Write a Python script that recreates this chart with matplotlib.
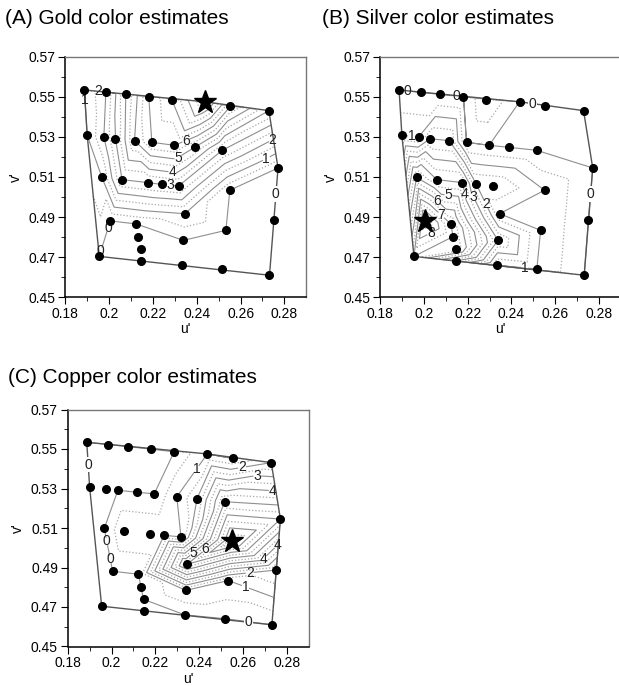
import numpy as np
import matplotlib
matplotlib.use("Agg")
import matplotlib.pyplot as plt
import matplotlib.tri as mtri

plt.rcParams['font.family'] = ['Liberation Sans', 'DejaVu Sans']

# chip chromaticities (u', v'), row by row from the top
u = [0.1887, 0.1985, 0.2076, 0.2181, 0.2286, 0.2437, 0.2553, 0.2729,
     0.1900, 0.1976, 0.2029, 0.2116, 0.2195, 0.2298, 0.2390, 0.2516, 0.2771,
     0.1967, 0.2059, 0.2176, 0.2240, 0.2317, 0.2551,
     0.2005, 0.2123, 0.2346, 0.2533, 0.2751, 0.2134, 0.2146, 0.2339,
     0.1955, 0.2146, 0.2334, 0.2516, 0.2732]
v = [0.5534, 0.5522, 0.5512, 0.5499, 0.5486, 0.5475, 0.5452, 0.5431,
     0.5308, 0.5299, 0.5291, 0.5281, 0.5273, 0.5258, 0.5248, 0.5233, 0.5145,
     0.5098, 0.5087, 0.5072, 0.5063, 0.5055, 0.5034,
     0.4881, 0.4866, 0.4917, 0.4834, 0.4887, 0.4803, 0.4739, 0.4784,
     0.4704, 0.4681, 0.4660, 0.4641, 0.4610]

# number of selections per chip
gold = [1, 2, 4, 6, 7, 9, 6, 4,
        1, 2, 3, 5, 6, 6, 5, 3, 0,
        1, 3, 3, 3, 3, 0,
        0, 0, 1, 0, 0, 0, 0, 0,
        0, 0, 0, 0, 0]
silver = [0, 0, 0, 0, 1, 0, 0, 0,
          1, 1, 2, 2, 0, 0, 0, 0, 0,
          5, 4, 4, 2, 2, 1,
          9, 7, 1, 1, 0, 7, 7, 3,
          7, 4, 1, 1, 0]
copper = [0, 0, 0, 0, 0, 1, 1, 2,
          0, 0, 0, 0, 0, 1, 2, 5, 6,
          0, 1, 1, 1, 1, 8,
          0, 0, 6, 1, 2, 0, 0, 1,
          0, 0, 0, 0, 0]

titles = ['(A) Gold color estimates', '(B) Silver color estimates',
          '(C) Copper color estimates']

# where the contour numbers sit (u', v')
gold_lbl = [(0.1909, 0.5487), (0.1950, 0.5535), (0.2345, 0.5296), (0.2317, 0.5193),
            (0.2289, 0.5130), (0.2278, 0.5062), (0.2747, 0.5285), (0.2717, 0.5193),
            (0.1996, 0.4847), (0.1958, 0.4731)]
silver_lbl = [(0.1923, 0.5525), (0.2148, 0.5497), (0.1945, 0.5295), (0.2025, 0.4835),
              (0.2068, 0.4898), (0.2056, 0.4978), (0.2110, 0.4990), (0.2183, 0.5015),
              (0.2226, 0.5002), (0.2288, 0.4965), (0.2460, 0.4648)]
copper_lbl = [(0.2398, 0.5393), (0.2595, 0.5410), (0.2665, 0.5361), (0.2736, 0.5289),
              (0.2751, 0.5018), (0.2695, 0.4943), (0.2630, 0.4882), (0.2603, 0.4778),
              (0.2372, 0.4974), (0.2436, 0.4983), (0.1975, 0.5031), (0.1993, 0.4941)]
# "0" tags on outline edges (pairs of chip indices)
gold_edge0 = [(16, 27)]
silver_edge0 = [(5, 6), (16, 27)]
copper_edge0 = [(0, 8), (34, 35)]

xt = [0.18, 0.20, 0.22, 0.24, 0.26, 0.28]
xtl = ['0.18', '0.2', '0.22', '0.24', '0.26', '0.28']
yt = [0.45, 0.47, 0.49, 0.51, 0.53, 0.55, 0.57]
ytl = ['0.45', '0.47', '0.49', '0.51', '0.53', '0.55', '0.57']

W, H = 619, 686
fig = plt.figure(figsize=(W / 100, H / 100), dpi=100)

tri = mtri.Triangulation(u, v)


def panel(rect, z, lbl, edge0, title, title_xy):
    ax = fig.add_axes(rect)
    z = np.asarray(z, float)
    levels = np.arange(0, z.max(), 0.5) + 1e-6
    cs = ax.tricontour(tri, z, levels=levels[::2], colors='#8e8e8e',
                       linewidths=0.8, linestyles='solid')
    ax.tricontour(tri, z, levels=levels[1::2], colors='#a8a8a8',
                  linewidths=0.9, linestyles=[(0, (1, 1.6))])
    texts = ax.clabel(cs, fmt=lambda x: f'{x:.0f}', manual=lbl, inline=True,
                      inline_spacing=1, fontsize=10, colors='#222222')
    for t in texts:
        t.set_rotation(0)

    # outline of the chip set
    nb = tri.neighbors
    for t, tr in enumerate(tri.triangles):
        for k in range(3):
            if nb[t, k] == -1:
                a, b = tr[k], tr[(k + 1) % 3]
                ax.plot([u[a], u[b]], [v[a], v[b]], color='#555555', lw=1.0,
                        zorder=3)
    for a, b in edge0:
        ax.text((u[a] + u[b]) / 2, (v[a] + v[b]) / 2, '0', fontsize=10,
                color='#222222', ha='center', va='center', zorder=4,
                bbox=dict(fc='white', ec='none', pad=0.5))

    best = int(np.argmax(z))
    idx = [i for i in range(len(u)) if i != best]
    ax.plot([u[i] for i in idx], [v[i] for i in idx], 'o', color='black',
            ms=5.5, zorder=5)
    ax.plot(u[best], v[best], '*', color='black', ms=17, zorder=6)

    ax.set_xlim(0.18, 0.29)
    ax.set_ylim(0.45, 0.57)
    ax.set_xticks(xt)
    ax.set_xticklabels(xtl)
    ax.set_yticks(yt)
    ax.set_yticklabels(ytl)
    ax.set_xticks(np.arange(0.18, 0.29, 0.01), minor=True)
    ax.set_yticks(np.arange(0.45, 0.571, 0.01), minor=True)
    ax.tick_params(which='major', length=5, width=0.8, labelsize=10, pad=2)
    ax.tick_params(which='minor', length=3, width=0.6)
    ax.set_xlabel("u'", fontsize=10, labelpad=1)
    ax.set_ylabel("v'", fontsize=10, labelpad=4)
    for s in ('top', 'right'):
        ax.spines[s].set_color('#777777')
        ax.spines[s].set_linewidth(1.0)
    for s in ('left', 'bottom'):
        ax.spines[s].set_linewidth(1.1)
    fig.text(title_xy[0] / W, 1 - title_xy[1] / H, title, fontsize=15,
             ha='left', va='center')
    return ax


aw, ah = 241 / W, 240.6 / H
panel([65.3 / W, 1 - 297.3 / H, aw, ah], gold, gold_lbl, gold_edge0,
      titles[0], (5, 19))
panel([380 / W, 1 - 297.3 / H, aw, ah], silver, silver_lbl, silver_edge0,
      titles[1], (322, 19))
panel([67.7 / W, 1 - 646.5 / H, aw, 237 / H], copper, copper_lbl, copper_edge0,
      titles[2], (8, 378))

fig.savefig('out.png', dpi=100)
